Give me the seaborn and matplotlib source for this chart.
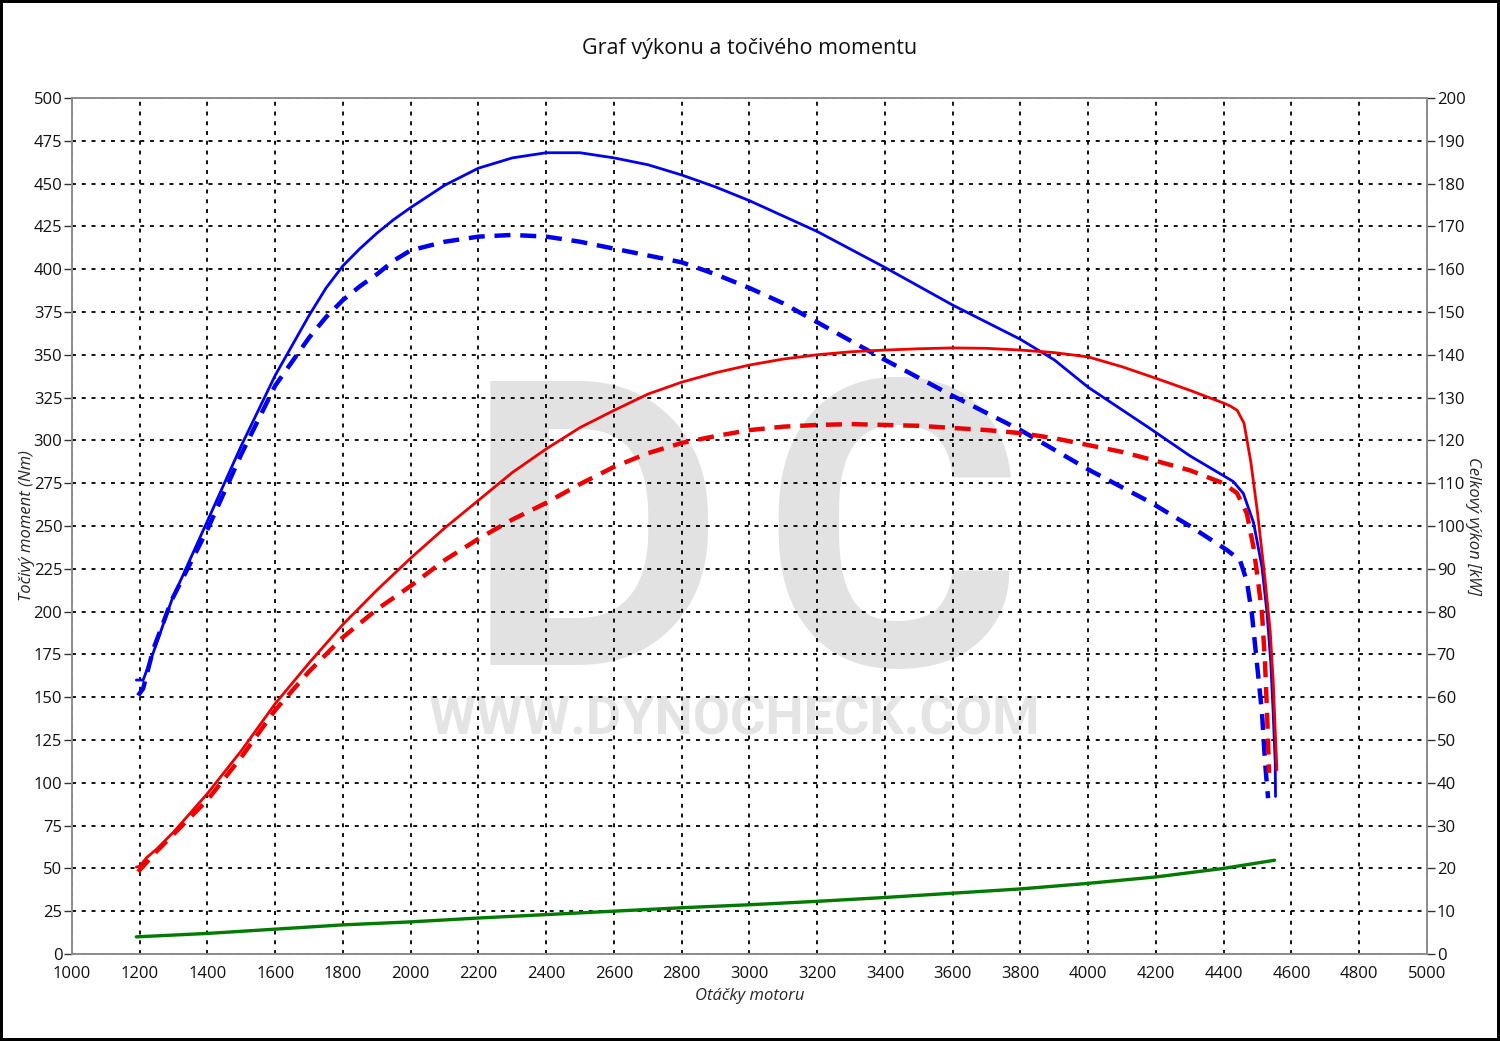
import matplotlib
matplotlib.use("Agg")
import matplotlib.pyplot as plt
import numpy as np
import seaborn as sns

# --- data ------------------------------------------------------------------
# tuned torque (Nm)
tq_rpm = [1190, 1210, 1240, 1295, 1400, 1500, 1600, 1700, 1750, 1800, 1850,
          1900, 1950, 2000, 2100, 2200, 2300, 2400, 2450, 2500, 2600, 2700,
          2800, 2900, 3000, 3200, 3400, 3600, 3800, 3900, 4000, 4182, 4300,
          4428, 4458, 4488, 4513, 4528, 4539, 4546, 4552, 4553]
tq_nm = [160, 160, 176, 207, 253, 297, 338, 373, 389, 402, 412,
         421, 429, 436, 449, 459, 465, 468, 468, 468, 465, 461,
         455, 448, 440, 422, 401, 379, 359, 347, 331, 307, 291,
         276, 269, 252, 226, 199, 170, 141, 112, 92]

# stock torque (Nm)
tq0_rpm = [1195, 1210, 1240, 1295, 1400, 1500, 1600, 1700, 1750, 1800, 1850,
           1900, 1950, 2000, 2100, 2200, 2300, 2400, 2500, 2600, 2700, 2800,
           2900, 3000, 3100, 3200, 3400, 3600, 3800, 4000, 4182, 4300, 4409,
           4448, 4468, 4483, 4498, 4513, 4522, 4531]
tq0_nm = [151, 155, 178, 207, 248, 292, 332, 360, 372, 382, 390,
          397, 405, 411, 416, 419, 420, 419, 416, 412, 408, 404,
          397, 389, 380, 369, 347, 326, 306, 283, 264, 250, 236,
          230, 218, 199, 170, 141, 112, 91]

# tuned power (kW)
pw_rpm = [1190, 1200, 1220, 1250, 1300, 1400, 1500, 1600, 1700, 1800, 1900,
          2000, 2100, 2200, 2300, 2400, 2500, 2600, 2700, 2800, 2900, 3000,
          3100, 3200, 3300, 3400, 3500, 3600, 3700, 3800, 3900, 4000, 4100,
          4200, 4300, 4400, 4420, 4440, 4460, 4480, 4500, 4520, 4537, 4546,
          4552, 4557]
pw_kw = [20.3, 20.5, 22.5, 24.5, 28.5, 37.5, 47.5, 58.5, 68, 77, 85,
         92.5, 99.5, 106, 112.5, 118, 123, 127, 130.8, 133.6, 135.8, 137.6,
         139, 140, 140.7, 141.1, 141.4, 141.6, 141.5, 141.1, 140.5, 139.5, 137.2,
         134.5, 131.7, 128.7, 128, 127, 124, 115, 103, 89, 75.7, 64,
         52.3, 43]

# stock power (kW)
pw0_rpm = [1195, 1210, 1250, 1300, 1400, 1500, 1600, 1700, 1800, 1900, 2000,
           2100, 2200, 2300, 2400, 2500, 2600, 2700, 2800, 2900, 3000, 3100,
           3200, 3300, 3400, 3500, 3600, 3700, 3800, 3900, 4000, 4100, 4191,
           4300, 4398, 4439, 4468, 4488, 4501, 4513, 4522, 4528, 4534]
pw0_kw = [19.2, 20.5, 24, 28, 36, 46, 57, 66, 74, 80.5, 86,
          92, 97, 101.5, 105.4, 109.8, 113.8, 117, 119.4, 121, 122.4, 123.2,
          123.6, 123.8, 123.6, 123.4, 122.9, 122.4, 121.7, 120.5, 118.9, 117.3, 115.4,
          113, 110, 107.7, 103, 95, 87.4, 79.7, 68, 56.3, 42.3]

# losses (kW)
loss_rpm = [1190, 1400, 1600, 1800, 2000, 2200, 2400, 2600, 2800, 3000, 3200,
            3400, 3600, 3800, 4000, 4200, 4400, 4550]
loss_kw = [4.0, 4.8, 5.8, 6.8, 7.5, 8.4, 9.2, 10.0, 10.8, 11.5, 12.3,
           13.2, 14.2, 15.2, 16.5, 18.0, 20.0, 21.9]

x_ticks = list(range(1000, 5001, 200))
left_ticks = list(range(0, 501, 25))
right_ticks = list(range(0, 201, 10))

BLUE = "#0000ee"
RED = "#ee0000"
GREEN = "#007a00"
MARK = "#e2e2e2"

sns.set_theme(style="white")
plt.rcParams["font.family"] = ["Open Sans", "DejaVu Sans"]

fig = plt.figure(figsize=(15, 10.41), dpi=100)
fig.patch.set_edgecolor("black")
fig.patch.set_linewidth(3)
ax = fig.add_axes([0.048, 0.0836, 0.9033, 0.8223])
ax2 = ax.twinx()

# watermark
wm_font = ["Roboto", "DejaVu Sans"]
ax.text(2543, 168.8, "D", fontsize=288, fontweight="bold", color=MARK,
        family=wm_font, ha="center", va="baseline", zorder=0.1)
ax.text(3422, 168.8, "C", fontsize=288, fontweight="bold", color=MARK,
        family=wm_font, ha="center", va="baseline", zorder=0.1)
ax.text(2954, 128, "WWW.DYNOCHECK.COM", fontsize=39, fontweight="bold",
        color="#e4e4e4", family=wm_font, ha="center", va="baseline", zorder=0.1)

# torque on left axis
sns.lineplot(x=tq_rpm, y=tq_nm, ax=ax, color=BLUE, lw=2, sort=False, zorder=3)
l = sns.lineplot(x=tq0_rpm, y=tq0_nm, ax=ax, color=BLUE, lw=3.2, sort=False,
                 zorder=3).lines[-1]
l.set_dashes((3.6, 2.2))

# power on right axis
sns.lineplot(x=pw_rpm, y=pw_kw, ax=ax2, color=RED, lw=2, sort=False, zorder=3)
l = sns.lineplot(x=pw0_rpm, y=pw0_kw, ax=ax2, color=RED, lw=3.2, sort=False,
                 zorder=3).lines[-1]
l.set_dashes((3.6, 2.2))
sns.lineplot(x=loss_rpm, y=loss_kw, ax=ax2, color=GREEN, lw=2.4, sort=False,
             zorder=3)

ax.set_xlim(1000, 5000)
ax.set_ylim(0, 500)
ax2.set_ylim(0, 200)
ax.set_xticks(x_ticks)
ax.set_yticks(left_ticks)
ax2.set_yticks(right_ticks)

ax.grid(True, color="black", linestyle=(0, (2.2, 3.2)), lw=1.3, zorder=0.5)
ax2.grid(False)

for a in (ax, ax2):
    for s in a.spines.values():
        s.set_color("#8c8c8c")
        s.set_linewidth(1.2)
    a.tick_params(direction="out", length=6, width=1, color="#333333",
                  labelsize=12, pad=1, labelcolor="#111111")
ax.tick_params(axis="x", pad=3)

ax.set_title("Graf výkonu a točivého momentu", fontsize=15.5, pad=32,
             color="#111111")
ax.set_xlabel("Otáčky motoru", fontsize=12, style="italic", labelpad=4)
ax.set_ylabel("Točivý moment (Nm)", fontsize=12, style="italic", labelpad=-1)
ax2.set_ylabel("Celkový výkon [kW]", fontsize=12, style="italic",
               rotation=-90, labelpad=11)

fig.savefig("out.png", dpi=100)
